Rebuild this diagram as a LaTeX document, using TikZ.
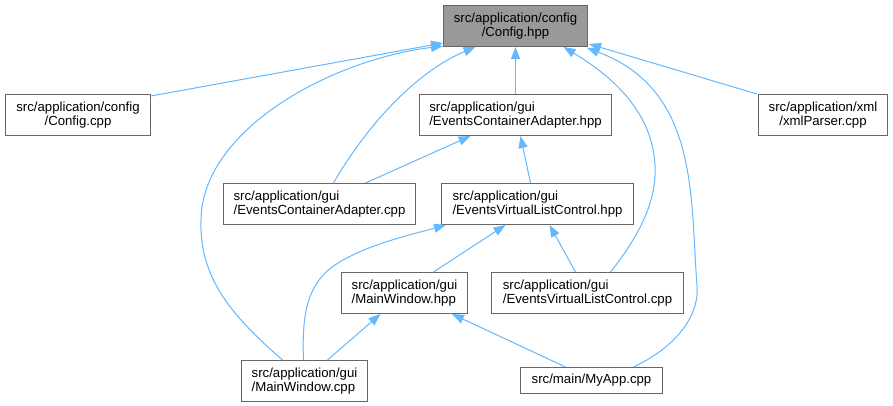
\documentclass[tikz,border=0pt]{standalone}
\usepackage{fontspec}
\setmainfont{Liberation Sans}
\usetikzlibrary{arrows.meta,calc}
\definecolor{edgeblue}{HTML}{63B8FF}
\definecolor{boxline}{HTML}{666666}
\definecolor{topfill}{HTML}{999999}
\begin{document}
\begin{tikzpicture}[x=1pt,y=-1pt,
  box/.style={draw=boxline, line width=1pt, fill=white, inner sep=0pt,
    minimum height=41pt, anchor=north west,
    font=\fontsize{13.2}{14}\selectfont},
  lbox/.style={box, align=left},
  cbox/.style={box, align=center},
  dep/.style={draw=edgeblue, line width=1pt,
    -{Triangle[length=12pt,width=9pt]}}]
\fill[white] (0,0) rectangle (893,406);
\useasboundingbox (0,0) rectangle (893,406);

% nodes
\node[cbox, fill=topfill, minimum width=144pt] (cfgh) at (443,5) {src/application/config\\/Config.hpp};
\node[cbox, minimum width=145pt] (cfgc) at (5,94) {src/application/config\\/Config.cpp};
\node[lbox, minimum width=192pt] (ecah) at (419,94) {src/application/gui\\/EventsContainerAdapter.hpp};
\node[cbox, minimum width=129pt] (xml) at (758,94) {src/application/xml\\/xmlParser.cpp};
\node[lbox, minimum width=192pt] (ecac) at (223,183) {src/application/gui\\/EventsContainerAdapter.cpp};
\node[lbox, minimum width=192pt] (evlch) at (441,183) {src/application/gui\\/EventsVirtualListControl.hpp};
\node[lbox, minimum width=126pt] (mwh) at (341,272) {src/application/gui\\/MainWindow.hpp};
\node[lbox, minimum width=192pt] (evlcc) at (491,272) {src/application/gui\\/EventsVirtualListControl.cpp};
\node[lbox, minimum width=126pt] (mwc) at (241,360) {src/application/gui\\/MainWindow.cpp};
\node[cbox, minimum width=142pt, minimum height=26pt] (myapp) at (520,367) {src/main/MyApp.cpp};

% edges to Config.hpp
\draw[dep] ($(cfgc.north east)+(0,2)$) -- ($(cfgh.south west)+(0,-4)$);
\draw[dep] ($(mwc.north)+(-22,0)$) .. controls (232,316) and (199,278) .. (201,220)
  .. controls (202,130) and (330,60) .. ($(cfgh.south west)+(0,-1)$);
\draw[dep] ($(ecac.north)+(14,0)$) .. controls (370,120) and (420,70) .. ($(cfgh.south)+(-40,0)$);
\draw[dep] (ecah.north) -- (cfgh.south);
\draw[dep] ($(evlcc.north)+(23,0)$) .. controls (640,235) and (657,200) .. (655,165)
  .. controls (652,110) and (610,75) .. ($(cfgh.south)+(48,0)$);
\draw[dep] ($(myapp.north)+(42,0)$) .. controls (670,350) and (700,320) .. (697,285)
  .. controls (690,200) and (700,90) .. ($(cfgh.south east)+(-1,1)$);
\draw[dep] ($(xml.north west)+(-1,0)$) -- ($(cfgh.south east)+(1,-3)$);

% other edges
\draw[dep] ($(ecac.north)+(46,0)$) -- ($(ecah.south)+(-45,0)$);
\draw[dep] ($(evlch.north)+(-7,0)$) -- ($(ecah.south)+(5,0)$);
\draw[dep] ($(mwc.north)+(-1,0)$) .. controls (302,320) and (305,285) .. (335,265)
  .. controls (365,245) and (410,235) .. ($(evlch.south west)+(5,0)$);
\draw[dep] ($(mwh.north)+(29,0)$) -- ($(evlch.south)+(-32,0)$);
\draw[dep] ($(evlcc.north)+(-12,0)$) -- ($(evlch.south)+(12,0)$);
\draw[dep] ($(mwc.north)+(23,0)$) -- ($(mwh.south)+(-24,0)$);
\draw[dep] ($(myapp.north)+(-26,0)$) -- ($(mwh.south east)+(-16,0)$);
\end{tikzpicture}
\end{document}
